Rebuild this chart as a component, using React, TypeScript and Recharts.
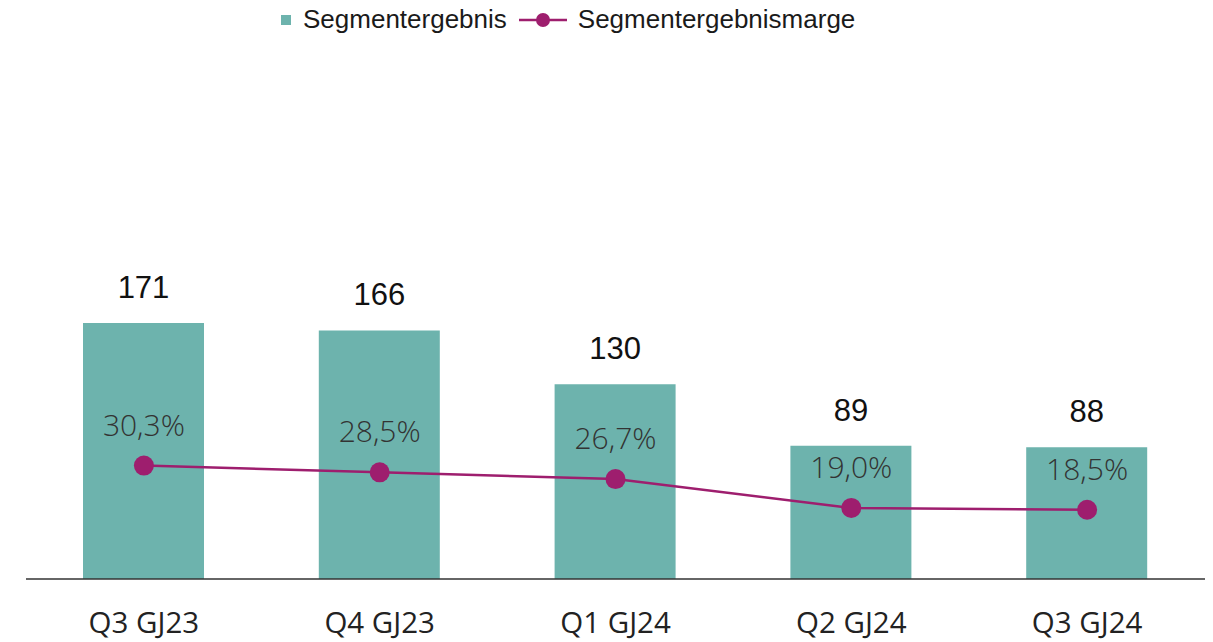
import { ComposedChart, Bar, Line, XAxis, YAxis, LabelList, Legend } from "recharts";

const quarters = ["Q3 GJ23", "Q4 GJ23", "Q1 GJ24", "Q2 GJ24", "Q3 GJ24"];
const segmentResult = [171, 166, 130, 89, 88];
const segmentMargin = [30.3, 28.5, 26.7, 19.0, 18.5];

const data = quarters.map((q, i) => ({
  quarter: q,
  result: segmentResult[i],
  margin: segmentMargin[i],
}));

const TEAL = "#6db3ad";
const MAGENTA = "#9e1e6e";

const LegendContent = () => (
  <div
    style={{
      display: "flex",
      alignItems: "center",
      fontFamily: "'Liberation Sans', Arial, sans-serif",
      fontSize: 26,
      color: "#1a1a1a",
      whiteSpace: "nowrap",
    }}
  >
    <svg width={12} height={12} style={{ marginRight: 11 }}>
      <rect x={1} y={1} width={10} height={10} fill={TEAL} />
    </svg>
    <span>Segmentergebnis</span>
    <svg width={48} height={16} style={{ marginLeft: 12, marginRight: 11 }}>
      <line x1={0} y1={8} x2={48} y2={8} stroke={MAGENTA} strokeWidth={2.5} />
      <circle cx={24} cy={8} r={7} fill={MAGENTA} />
    </svg>
    <span>Segmentergebnismarge</span>
  </div>
);

const QuarterTick = (props: any) => {
  const { x, y, payload } = props;
  return (
    <text
      x={x}
      y={y + 46}
      textAnchor="middle"
      fontFamily="'Open Sans', sans-serif"
      fontSize={29.5}
      fill="#222"
    >
      {payload.value}
    </text>
  );
};

const fmtPct = (v: any) => Number(v).toFixed(1).replace(".", ",") + "%";

export default function App() {
  return (
    <div style={{ position: "absolute", left: 0, top: 0 }}>
      <ComposedChart
        width={1213}
        height={642}
        data={data}
        margin={{ top: 55, right: 8, bottom: 0, left: 26 }}
      >
        <Legend
          layout="horizontal"
          verticalAlign="middle"
          content={<LegendContent />}
          wrapperStyle={{ top: 4, left: 280, width: "auto" }}
        />
        <XAxis
          dataKey="quarter"
          axisLine={{ stroke: "#333", strokeWidth: 1.5 }}
          tickLine={false}
          height={63}
          tick={<QuarterTick />}
          interval={0}
        />
        <YAxis yAxisId="left" hide domain={[0, 350]} />
        <YAxis yAxisId="right" orientation="right" hide domain={[0, 140]} />
        <Bar
          yAxisId="left"
          dataKey="result"
          name="Segmentergebnis"
          fill={TEAL}
          barSize={121}
          isAnimationActive={false}
        >
          <LabelList
            dataKey="result"
            position="top"
            offset={25}
            fill="#111"
            fontSize={31}
            fontFamily="'Liberation Sans', Arial, sans-serif"
          />
        </Bar>
        <Line
          yAxisId="right"
          dataKey="margin"
          name="Segmentergebnismarge"
          stroke={MAGENTA}
          strokeWidth={2.5}
          dot={{ r: 10, fill: MAGENTA, stroke: "none" }}
          activeDot={false}
          isAnimationActive={false}
        >
          <LabelList
            dataKey="margin"
            position="top"
            offset={30}
            formatter={fmtPct}
            fill="#333"
            fontSize={30}
            fontWeight={300}
            fontFamily="'Open Sans', sans-serif"
          />
        </Line>
      </ComposedChart>
    </div>
  );
}
